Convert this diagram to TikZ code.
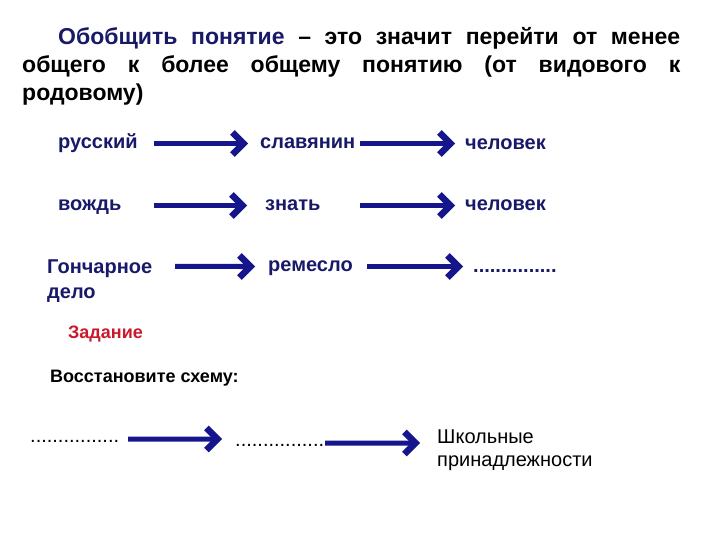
\documentclass[tikz,border=0pt]{standalone}
\usepackage{fontspec}
\setmainfont{Liberation Sans}
\usetikzlibrary{arrows.meta}
\definecolor{wordblue}{RGB}{25,25,105}
\definecolor{arrowblue}{RGB}{22,22,140}
\definecolor{taskred}{RGB}{200,25,45}

\begin{document}
\begin{tikzpicture}[x=1bp,y=-1bp,
  titletext/.style={font=\fontsize{23bp}{26bp}\selectfont\bfseries, inner sep=0pt, anchor=base west},
  wordtext/.style={font=\fontsize{20bp}{24bp}\selectfont\bfseries, text=wordblue, inner sep=0pt, anchor=base west},
  word/.style={wordtext, text height=15bp, text depth=4bp},
  plaintext/.style={font=\fontsize{20bp}{23bp}\selectfont, inner sep=0pt, anchor=base west, text height=15bp, text depth=4bp},
  arr/.style={draw=arrowblue, line width=5bp, -{Straight Barb[length=11bp,width=22bp,line width'=6.5bp]}}]
\useasboundingbox[fill=white] (0,0) rectangle (720,540);
\node[titletext] (title1) at (58,45) {\makebox[622bp][s]{\textcolor{wordblue}{Обобщить понятие} – это значит перейти от менее}};
\node[titletext] (title2) at (22,73) {\makebox[658bp][s]{общего к более общему понятию (от видового к}};
\node[titletext] (title3) at (22,101) {родовому)};
\node[word] (rus) at (58,149) {русский};
\node[word] (slav) at (260,149) {славянин};
\node[word] (chel1) at (465,150) {человек};
\node[word] (vozhd) at (58,211) {вождь};
\node[word] (znat) at (265,211) {знать};
\node[word] (chel2) at (465,211) {человек};
\node[wordtext, align=left] (gonch) at (47,298) {Гончарное\\дело};
\node[word] (remeslo) at (268,272) {ремесло};
\node[word] (dots3) at (473,273) {...............};
\node[wordtext, text=taskred, font=\fontsize{18bp}{22bp}\selectfont\bfseries] (task) at (68,338) {Задание};
\node[wordtext, text=black, font=\fontsize{18bp}{22bp}\selectfont\bfseries] (restore) at (50,382) {Восстановите схему:};
\node[plaintext] (dotsA) at (30,442) {................};
\node[plaintext] (dotsB) at (235,446) {................};
\node[plaintext, text height=, text depth=, align=left] (school) at (437,466) {Школьные\\принадлежности};
\draw[arr] ([xshift=96bp]rus.west) -- ([xshift=-12bp]slav.west);
\draw[arr] ([xshift=100bp]slav.west) -- ([xshift=-10bp]chel1.west |- slav.west);
\draw[arr] ([xshift=96bp]vozhd.west) -- ([xshift=-18bp]znat.west);
\draw[arr] ([xshift=95bp]znat.west) -- ([xshift=-10bp]chel2.west);
\draw[arr] ([xshift=128bp,yshift=31.5bp]gonch.base west) -- ([xshift=-13bp]remeslo.west);
\draw[arr] ([xshift=99bp]remeslo.west) -- ([xshift=-10bp,yshift=1bp]dots3.west);
\draw[arr] ([xshift=98bp,yshift=-2.5bp]dotsA.west) -- ([xshift=-13bp,yshift=1.5bp]dotsB.west);
\draw[arr] ([xshift=90bp,yshift=-2.5bp]dotsB.west) -- ([xshift=-17bp,yshift=23bp]school.base west);
\end{tikzpicture}
\end{document}
